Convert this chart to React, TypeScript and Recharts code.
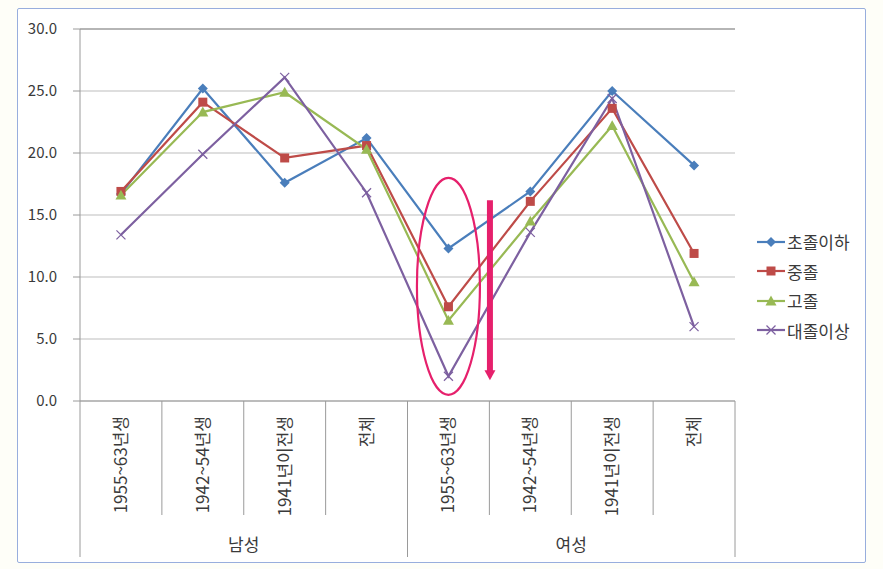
import React from 'react';
import { LineChart, Line, XAxis, YAxis, CartesianGrid, ReferenceDot, ReferenceLine } from 'recharts';

const groups = ['남성', '여성'];
const ageLabels = ['1955~63년생', '1942~54년생', '1941년이전생', '전체'];
const yTicks = [0, 5, 10, 15, 20, 25, 30];

const elementary = [16.7, 25.2, 17.6, 21.2, 12.3, 16.9, 25.0, 19.0];
const middle = [16.9, 24.1, 19.6, 20.6, 7.6, 16.1, 23.6, 11.9];
const high = [16.6, 23.3, 24.9, 20.3, 6.5, 14.5, 22.2, 9.6];
const college = [13.4, 19.9, 26.1, 16.8, 2.0, 13.6, 24.4, 6.0];

const series = [
  { key: 'elementary', name: '초졸이하', values: elementary, color: '#4a7ebb', marker: 'diamond' },
  { key: 'middle', name: '중졸', values: middle, color: '#be4b48', marker: 'square' },
  { key: 'high', name: '고졸', values: high, color: '#98b954', marker: 'triangle' },
  { key: 'college', name: '대졸이상', values: college, color: '#7d60a0', marker: 'x' },
];

const rows = groups.flatMap((g, gi) =>
  ageLabels.map((label, li) => {
    const i = gi * ageLabels.length + li;
    const row: any = { key: `${g} ${label}`, label, group: g };
    series.forEach((s) => { row[s.key] = s.values[i]; });
    return row;
  })
);

const W = 883;
const H = 569;
const LEFT = 80;
const TOP = 29;
const RIGHT = 148;
const BOTTOM = 168;
const PLOT_W = W - LEFT - RIGHT;
const AXIS_Y = H - BOTTOM;
const FONT = '"Noto Sans CJK KR", "Noto Sans", sans-serif';
const TEXT = '#3a3a3a';
const AXIS = '#9a9a9a';
const PINK = '#e6206c';

function marker(type: string, cx: number, cy: number, color: string, key?: any) {
  if (cx == null || cy == null) return <g key={key} />;
  if (type === 'diamond') {
    const r = 5;
    return <polygon key={key} points={`${cx},${cy - r} ${cx + r},${cy} ${cx},${cy + r} ${cx - r},${cy}`} fill={color} />;
  }
  if (type === 'square') {
    const r = 4.5;
    return <rect key={key} x={cx - r} y={cy - r} width={r * 2} height={r * 2} fill={color} />;
  }
  if (type === 'triangle') {
    const r = 5.5;
    return <polygon key={key} points={`${cx},${cy - r} ${cx + r},${cy + r * 0.8} ${cx - r},${cy + r * 0.8}`} fill={color} />;
  }
  const r = 4.5;
  return (
    <g key={key} stroke={color} strokeWidth={1.3}>
      <line x1={cx - r} y1={cy - r} x2={cx + r} y2={cy + r} />
      <line x1={cx - r} y1={cy + r} x2={cx + r} y2={cy - r} />
    </g>
  );
}

function CategoryTick(props: any) {
  const { x, index } = props;
  const band = PLOT_W / rows.length;
  const left = x - band / 2;
  const n = ageLabels.length;
  const long = AXIS_Y + 156;
  const short = AXIS_Y + 114;
  return (
    <g>
      <line x1={left} x2={left} y1={AXIS_Y} y2={index % n === 0 ? long : short} stroke={AXIS} />
      {index === rows.length - 1 && (
        <line x1={x + band / 2} x2={x + band / 2} y1={AXIS_Y} y2={long} stroke={AXIS} />
      )}
      <text
        transform={`translate(${x},${AXIS_Y + 15}) rotate(-90)`}
        textAnchor="end"
        dy="0.35em"
        fontSize={17}
        fontFamily={FONT}
        fill={TEXT}
      >
        {rows[index].label}
      </text>
      {index % n === 1 && (
        <text x={x + band / 2} y={AXIS_Y + 150} textAnchor="middle" fontSize={17} fontFamily={FONT} fill={TEXT}>
          {rows[index].group}
        </text>
      )}
    </g>
  );
}

function Annotation(props: any) {
  const { cx, cy } = props;
  if (cx == null || cy == null) return <g />;
  const ax = cx + 41.5;
  return (
    <g>
      <ellipse cx={cx} cy={cy} rx={31.5} ry={108.5} fill="none" stroke={PINK} strokeWidth={2.2} />
      <line x1={ax} x2={ax} y1={cy - 86} y2={cy + 85} stroke={PINK} strokeWidth={6} />
      <polygon points={`${ax - 5.5},${cy + 84} ${ax + 5.5},${cy + 84} ${ax},${cy + 94}`} fill={PINK} />
    </g>
  );
}

function LegendBox() {
  return (
    <div style={{ position: 'absolute', left: 757, top: 227, fontFamily: FONT, fontSize: 17, color: TEXT }}>
      {series.map((s) => (
        <div key={s.key} style={{ display: 'flex', alignItems: 'center', height: 29.5 }}>
          <svg width={29} height={14} style={{ marginRight: 1 }}>
            <line x1={0} x2={28} y1={7} y2={7} stroke={s.color} strokeWidth={2.2} />
            {marker(s.marker, 14, 7, s.color)}
          </svg>
          <span>{s.name}</span>
        </div>
      ))}
    </div>
  );
}

export default function App() {
  return (
    <div style={{ position: 'absolute', left: 0, top: 0, width: W, height: H, background: '#fefef8' }}>
      <div
        style={{
          position: 'absolute',
          left: 17,
          top: 8,
          width: 847,
          height: 553,
          border: '1.5px solid #98aedd',
          background: '#ffffff',
          borderRadius: 2,
        }}
      />
      <div style={{ position: 'absolute', left: 0, top: 0 }}>
        <LineChart width={W} height={H} data={rows} margin={{ top: TOP, right: RIGHT, left: 0, bottom: 0 }}>
          <CartesianGrid vertical={false} stroke="#bdbdbd" />
          <ReferenceLine y={30} stroke="#8c8c8c" />
          <XAxis
            dataKey="key"
            scale="band"
            interval={0}
            height={BOTTOM}
            tickLine={false}
            axisLine={{ stroke: AXIS }}
            tick={<CategoryTick />}
          />
          <YAxis
            width={LEFT}
            domain={[0, 30]}
            ticks={yTicks}
            tickFormatter={(v: number) => v.toFixed(1)}
            tickSize={7}
            tickMargin={16}
            tickLine={{ stroke: AXIS }}
            axisLine={{ stroke: AXIS }}
            tick={{ fontSize: 15, fontFamily: FONT, fill: TEXT }}
          />
          {series.map((s) => (
            <Line
              key={s.key}
              dataKey={s.key}
              name={s.name}
              stroke={s.color}
              strokeWidth={2.2}
              isAnimationActive={false}
              dot={(p: any) => marker(s.marker, p.cx, p.cy, s.color, `${s.key}-${p.index}`)}
              activeDot={false}
            />
          ))}
          <ReferenceDot x={rows[4].key} y={9.25} ifOverflow="visible" shape={<Annotation />} />
        </LineChart>
      </div>
      <LegendBox />
    </div>
  );
}
